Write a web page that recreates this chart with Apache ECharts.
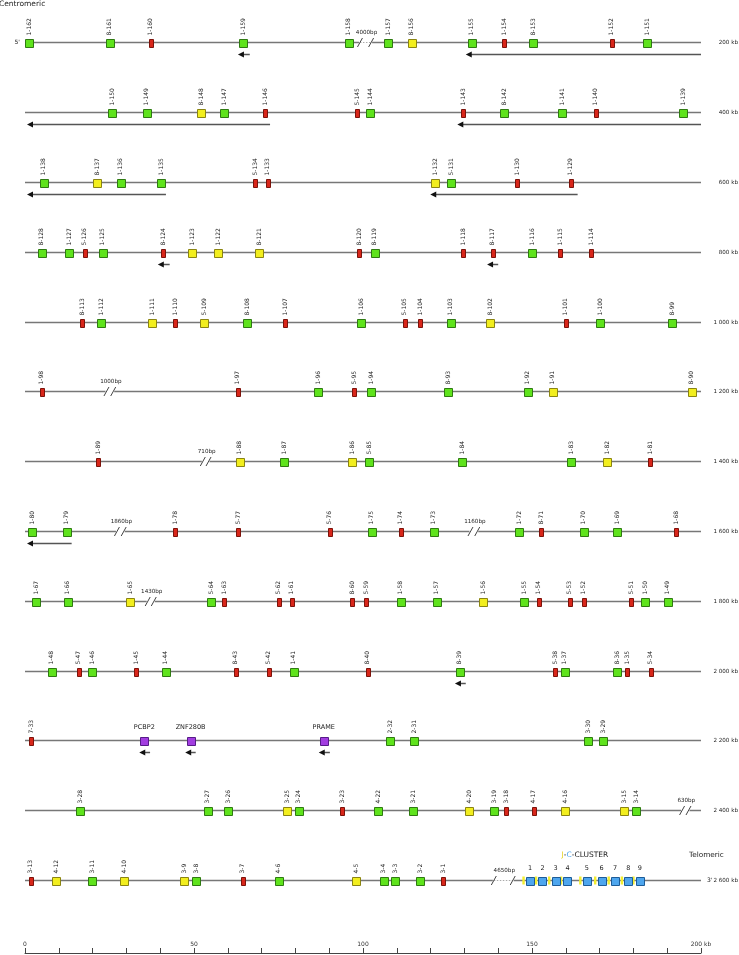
<!DOCTYPE html>
<html><head><meta charset="utf-8">
<script src="https://cdn.jsdelivr.net/npm/echarts@6/dist/echarts.min.js"></script>
<style>html,body{margin:0;padding:0;background:#fff}#c{width:739px;height:955px}</style>
</head><body><div id="c"></div>
<script>
// ---------- data ----------
const rowLabels = ['200 kb','400 kb','600 kb','800 kb','1 000 kb','1 200 kb','1 400 kb','1 600 kb','1 800 kb','2 000 kb','2 200 kb','2 400 kb','2 600 kb'];
// [name, position in kb within the 200 kb row, type]  F=functional, O=ORF, P=pseudogene, N=non-IG gene
const row1 = [['1-162',1.2,'F'],['8-161',25.1,'F'],['1-160',37.2,'P'],['1-159',64.6,'F'],['1-158',95.8,'F'],['1-157',107.4,'F'],['8-156',114.4,'O'],['1-155',132.2,'F'],['1-154',141.8,'P'],['8-153',150.3,'F'],['1-152',173.6,'P'],['1-151',184.1,'F']];
const row2 = [['1-150',25.8,'F'],['1-149',36.0,'F'],['8-148',52.2,'O'],['1-147',59.0,'F'],['1-146',71.1,'P'],['5-145',98.3,'P'],['1-144',102.2,'F'],['1-143',129.7,'P'],['8-142',141.7,'F'],['1-141',159.0,'F'],['1-140',168.9,'P'],['1-139',194.8,'F']];
const row3 = [['1-138',5.6,'F'],['8-137',21.3,'O'],['1-136',28.3,'F'],['1-135',40.3,'F'],['5-134',68.1,'P'],['1-133',71.8,'P'],['1-132',121.3,'O'],['5-131',126.1,'F'],['1-130',145.7,'P'],['1-129',161.5,'P']];
const row4 = [['8-128',4.9,'F'],['1-127',13.1,'F'],['5-126',17.7,'P'],['1-125',23.0,'F'],['8-124',40.9,'P'],['1-123',49.5,'O'],['1-122',57.2,'O'],['8-121',69.3,'O'],['8-120',98.9,'P'],['8-119',103.5,'F'],['1-118',129.7,'P'],['8-117',138.4,'P'],['1-116',150.1,'F'],['1-115',158.4,'P'],['1-114',167.5,'P']];
const row5 = [['8-113',17.0,'P'],['1-112',22.5,'F'],['1-111',37.7,'O'],['1-110',44.4,'P'],['5-109',53.1,'O'],['8-108',65.7,'F'],['1-107',77.0,'P'],['1-106',99.4,'F'],['5-105',112.3,'P'],['1-104',116.9,'P'],['1-103',125.9,'F'],['8-102',137.7,'O'],['1-101',160.0,'P'],['1-100',170.2,'F'],['8-99',191.5,'F']];
const row6 = [['1-98',4.9,'P'],['1-97',62.9,'P'],['1-96',86.8,'F'],['5-95',97.4,'P'],['1-94',102.5,'F'],['8-93',125.2,'F'],['1-92',148.7,'F'],['1-91',156.1,'O'],['8-90',197.2,'O']];
const row7 = [['1-89',21.6,'P'],['1-88',63.5,'O'],['1-87',76.7,'F'],['1-86',96.8,'O'],['5-85',101.8,'F'],['1-84',129.3,'F'],['1-83',161.6,'F'],['1-82',172.2,'O'],['1-81',184.9,'P']];
const row8 = [['1-80',2.1,'F'],['1-79',12.3,'F'],['1-78',44.4,'P'],['5-77',63.0,'P'],['5-76',90.1,'P'],['1-75',102.6,'F'],['1-74',111.2,'P'],['1-73',120.9,'F'],['1-72',146.3,'F'],['8-71',152.7,'P'],['1-70',165.3,'F'],['1-69',175.2,'F'],['1-68',192.6,'P']];
const row9 = [['1-67',3.3,'F'],['1-66',12.7,'F'],['1-65',31.1,'O'],['5-64',55.1,'F'],['1-63',59.0,'P'],['5-62',75.0,'P'],['1-61',78.9,'P'],['8-60',96.8,'P'],['5-59',101.0,'P'],['1-58',111.2,'F'],['1-57',121.8,'F'],['1-56',135.6,'O'],['1-55',147.7,'F'],['1-54',152.0,'P'],['5-53',161.1,'P'],['1-52',165.3,'P'],['5-51',179.4,'P'],['1-50',183.5,'F'],['1-49',190.1,'F']];
const row10 = [['1-48',7.9,'F'],['5-47',15.9,'P'],['1-46',19.9,'F'],['1-45',32.9,'P'],['1-44',41.6,'F'],['8-43',62.3,'P'],['5-42',72.1,'P'],['1-41',79.5,'F'],['8-40',101.4,'P'],['8-39',128.6,'F'],['5-38',156.9,'P'],['1-37',159.7,'F'],['8-36',175.2,'F'],['1-35',178.2,'P'],['5-34',185.1,'P']];
const row11 = [['7-33',1.8,'P'],['PCBP2',35.3,'N'],['ZNF280B',49.0,'N'],['PRAME',88.4,'N'],['2-32',108.1,'F'],['2-31',115.2,'F'],['3-30',166.7,'F'],['3-29',171.1,'F']];
const row12 = [['3-28',16.3,'F'],['3-27',54.0,'F'],['3-26',60.1,'F'],['3-25',77.5,'O'],['3-24',81.0,'F'],['3-23',93.9,'P'],['4-22',104.5,'F'],['3-21',114.9,'F'],['4-20',131.4,'O'],['3-19',138.9,'F'],['3-18',142.4,'P'],['4-17',150.5,'P'],['4-16',159.8,'O'],['3-15',177.3,'O'],['3-14',180.9,'F']];
const row13 = [['3-13',1.7,'P'],['4-12',9.2,'O'],['3-11',19.9,'F'],['4-10',29.4,'O'],['3-9',47.1,'O'],['3-8',50.6,'F'],['3-7',64.4,'P'],['4-6',75.0,'F'],['4-5',98.0,'O'],['3-4',106.1,'F'],['3-3',109.6,'F'],['3-2',117.0,'F'],['3-1',123.7,'P']];
const rows = [row1,row2,row3,row4,row5,row6,row7,row8,row9,row10,row11,row12,row13];
// J-C cluster (last row): C gene number and position, J segment positions
const clusterC = [['1',149.4],['2',153.1],['3',157.0],['4',160.5],['5',166.2],['6',170.6],['7',174.6],['8',178.5],['9',181.9]];
const clusterJ = [147.5,151.2,155.1,158.6,164.3,168.7,172.7,176.6,180.0];
// transcription direction arrows: [row index, from kb, to kb]
const arrows = [[0,63.0,66.5],[0,130.4,200],[1,0.6,72.5],[1,127.9,200],[2,0.6,41.7],[2,119.9,163.5],[3,39.3,42.8],[3,136.7,140.0],[7,0.6,13.8],[9,127.2,130.4],[10,33.8,37.0],[10,47.4,50.5],[10,86.9,90.2]];
// gaps in the map: [row index, slash 1 kb, slash 2 kb, label, dotted]
const breaks = [[0,99.1,102.4,'4000bp',1],[5,24.1,26.1,'1000bp',0],[6,52.6,54.3,'710bp',0],[7,27.2,29.2,'1860bp',0],[7,131.8,133.8,'1160bp',0],[8,36.3,38.1,'1430bp',0],[11,194.4,196.3,'630bp',0],[12,138.7,144.3,'4650bp',1]];
const scaleLabels = ['0','50','100','150','200 kb'];

// ---------- styles ----------
const FONT = 'DejaVu Sans';
const TYPES = {
  F:{fill:'#5fe31c',stroke:'#2f7a12',w:8},
  O:{fill:'#f2ee1e',stroke:'#8a8412',w:8},
  P:{fill:'#d8261a',stroke:'#7c120a',w:4},
  N:{fill:'#a23de0',stroke:'#561c88',w:8},
  C:{fill:'#4ea6ee',stroke:'#1d5c98',w:8}
};

const geneList = [];
rows.forEach((r,i)=>r.forEach(g=>geneList.push({name:g[0],kb:g[1],type:g[2],row:i})));
clusterC.forEach(c=>geneList.push({name:c[0],kb:c[1],type:'C',row:12}));

function boxRect(cx, cy, w, h){
  return {x:Math.round(cx-w/2)+0.5, y:Math.round(cy-h/2)+0.5, width:w, height:h};
}

const chart = echarts.init(document.getElementById('c'), null, {renderer:'canvas'});
chart.setOption({
  animation:false,
  backgroundColor:'#fff',
  grid:[
    {left:25, right:38, top:42.3, height:837.7},
    {left:25, right:38, top:952, height:1}
  ],
  xAxis:[
    {gridIndex:0, type:'value', min:0, max:200, show:false},
    {gridIndex:1, type:'value', min:0, max:200, interval:10, position:'top',
     axisLine:{lineStyle:{color:'#444',width:1}},
     axisTick:{length:5,lineStyle:{color:'#444'}},
     splitLine:{show:false},
     axisLabel:{fontFamily:FONT,fontSize:6,color:'#333',margin:5,
       formatter:v=>(v%50===0?scaleLabels[v/50]:'')}}
  ],
  yAxis:[
    {gridIndex:0, type:'value', min:0, max:12, inverse:true, show:false},
    {gridIndex:1, type:'value', min:0, max:1, show:false}
  ],
  graphic:[
    {type:'text', left:-1, top:0, style:{text:'Centromeric', font:'7.5px "DejaVu Sans"', fill:'#222'}},
    {type:'text', left:689, top:852, style:{text:'Telomeric', font:'7.3px "DejaVu Sans"', fill:'#222'}}
  ],
  series:[
    { // row lines and row labels
      type:'custom', xAxisIndex:0, yAxisIndex:0, silent:true,
      data:rowLabels.map((l,i)=>[0,i]),
      renderItem:(params,api)=>{
        const i = api.value(1);
        const a = api.coord([0,i]), b = api.coord([200,i]);
        const y = Math.round(a[1])+0.5;
        const ch = [
          {type:'line', shape:{x1:a[0],y1:y,x2:b[0],y2:y}, style:{stroke:'#777',lineWidth:1.4}},
          {type:'text', x:738, y:y, style:{text:rowLabels[i], font:'5.6px "DejaVu Sans"', fill:'#222', align:'right', verticalAlign:'middle'}}
        ];
        if(i===0) ch.push({type:'text', x:a[0]-5, y:y, style:{text:"5'", font:'6px "DejaVu Sans"', fill:'#222', align:'right', verticalAlign:'middle'}});
        if(i===12) ch.push({type:'text', x:b[0]+6, y:y, style:{text:"3'", font:'6px "DejaVu Sans"', fill:'#222', align:'left', verticalAlign:'middle'}});
        return {type:'group', children:ch};
      }
    },
    { // breaks
      type:'custom', xAxisIndex:0, yAxisIndex:0, silent:true,
      data:breaks.map(b=>[b[1],b[0],b[2]]),
      renderItem:(params,api)=>{
        const br = breaks[params.dataIndex];
        const p1 = api.coord([br[1],br[0]]), p2 = api.coord([br[2],br[0]]);
        const y = Math.round(p1[1])+0.5;
        const ch = [
          {type:'rect', shape:{x:p1[0]-1, y:y-2, width:p2[0]-p1[0]+2, height:4}, style:{fill:'#fff'}}
        ];
        if(br[4]) ch.push({type:'line', shape:{x1:p1[0],y1:y,x2:p2[0],y2:y}, style:{stroke:'#aaa',lineWidth:1,lineDash:[1.5,1.5]}});
        [p1,p2].forEach(p=>ch.push({type:'line', shape:{x1:p[0]-2.5,y1:y+4.5,x2:p[0]+2.5,y2:y-4.5}, style:{stroke:'#444',lineWidth:1}}));
        ch.push({type:'text', x:(p1[0]+p2[0])/2+1, y:y-10, style:{text:br[3], font:'5.6px "DejaVu Sans"', fill:'#222', align:'center', verticalAlign:'middle'}});
        return {type:'group', children:ch};
      }
    },
    { // J segments
      type:'custom', xAxisIndex:0, yAxisIndex:0, silent:true,
      data:clusterJ.map(k=>[k,12]),
      renderItem:(params,api)=>{
        const p = api.coord([api.value(0),api.value(1)]);
        return {type:'rect', shape:{x:p[0]-1.2, y:Math.round(p[1])-3.5, width:2.4, height:8}, style:{fill:'#f2ee30'}};
      }
    },
    { // genes
      type:'custom', xAxisIndex:0, yAxisIndex:0, silent:true,
      data:geneList.map(g=>[g.kb,g.row]),
      renderItem:(params,api)=>{
        const g = geneList[params.dataIndex];
        const p = api.coord([api.value(0),api.value(1)]);
        const st = TYPES[g.type];
        const cy = Math.round(p[1])+0.5;
        const ch = [{type:'rect', shape:boxRect(p[0],cy,st.w,8), style:{fill:st.fill, stroke:st.stroke, lineWidth:1}}];
        if(g.type==='N'){
          ch.push({type:'text', x:p[0], y:cy-13, style:{text:g.name, font:'6.5px "DejaVu Sans"', fill:'#222', align:'center', verticalAlign:'middle'}});
        } else if(g.type==='C'){
          ch.push({type:'text', x:p[0], y:cy-12, style:{text:g.name, font:'6.5px "DejaVu Sans"', fill:'#222', align:'center', verticalAlign:'middle'}});
        } else {
          ch.push({type:'text', x:p[0], y:cy-7, rotation:Math.PI/2, style:{text:g.name, font:'6px "DejaVu Sans"', fill:'#222', align:'left', verticalAlign:'middle'}});
        }
        return {type:'group', children:ch};
      }
    },
    { // arrows
      type:'custom', xAxisIndex:0, yAxisIndex:0, silent:true,
      data:arrows.map(a=>[a[1],a[0],a[2]]),
      renderItem:(params,api)=>{
        const a = arrows[params.dataIndex];
        const p1 = api.coord([a[1],a[0]]), p2 = api.coord([a[2],a[0]]);
        const y = Math.round(p1[1])+12.5;
        return {type:'group', children:[
          {type:'line', shape:{x1:p1[0]+4,y1:y,x2:p2[0],y2:y}, style:{stroke:'#555',lineWidth:1.5}},
          {type:'polygon', shape:{points:[[p1[0],y],[p1[0]+6,y-3],[p1[0]+6,y+3]]}, style:{fill:'#111'}}
        ]};
      }
    },
    { // J-C cluster title
      type:'custom', xAxisIndex:0, yAxisIndex:0, silent:true,
      data:[[ (clusterC[0][1]+clusterC[clusterC.length-1][1])/2, 12 ]],
      renderItem:(params,api)=>{
        const p = api.coord([api.value(0),api.value(1)]);
        return {type:'text', x:p[0], y:p[1]-25, style:{
          text:'{j|J}{k|-}{c|C}{k|-CLUSTER}', align:'center', verticalAlign:'middle',
          rich:{j:{fill:'#e6d21a',font:'7.5px "DejaVu Sans"'},c:{fill:'#4ea6ee',font:'7.5px "DejaVu Sans"'},k:{fill:'#222',font:'7.5px "DejaVu Sans"'}}
        }};
      }
    }
  ]
});
</script>
</body></html>
